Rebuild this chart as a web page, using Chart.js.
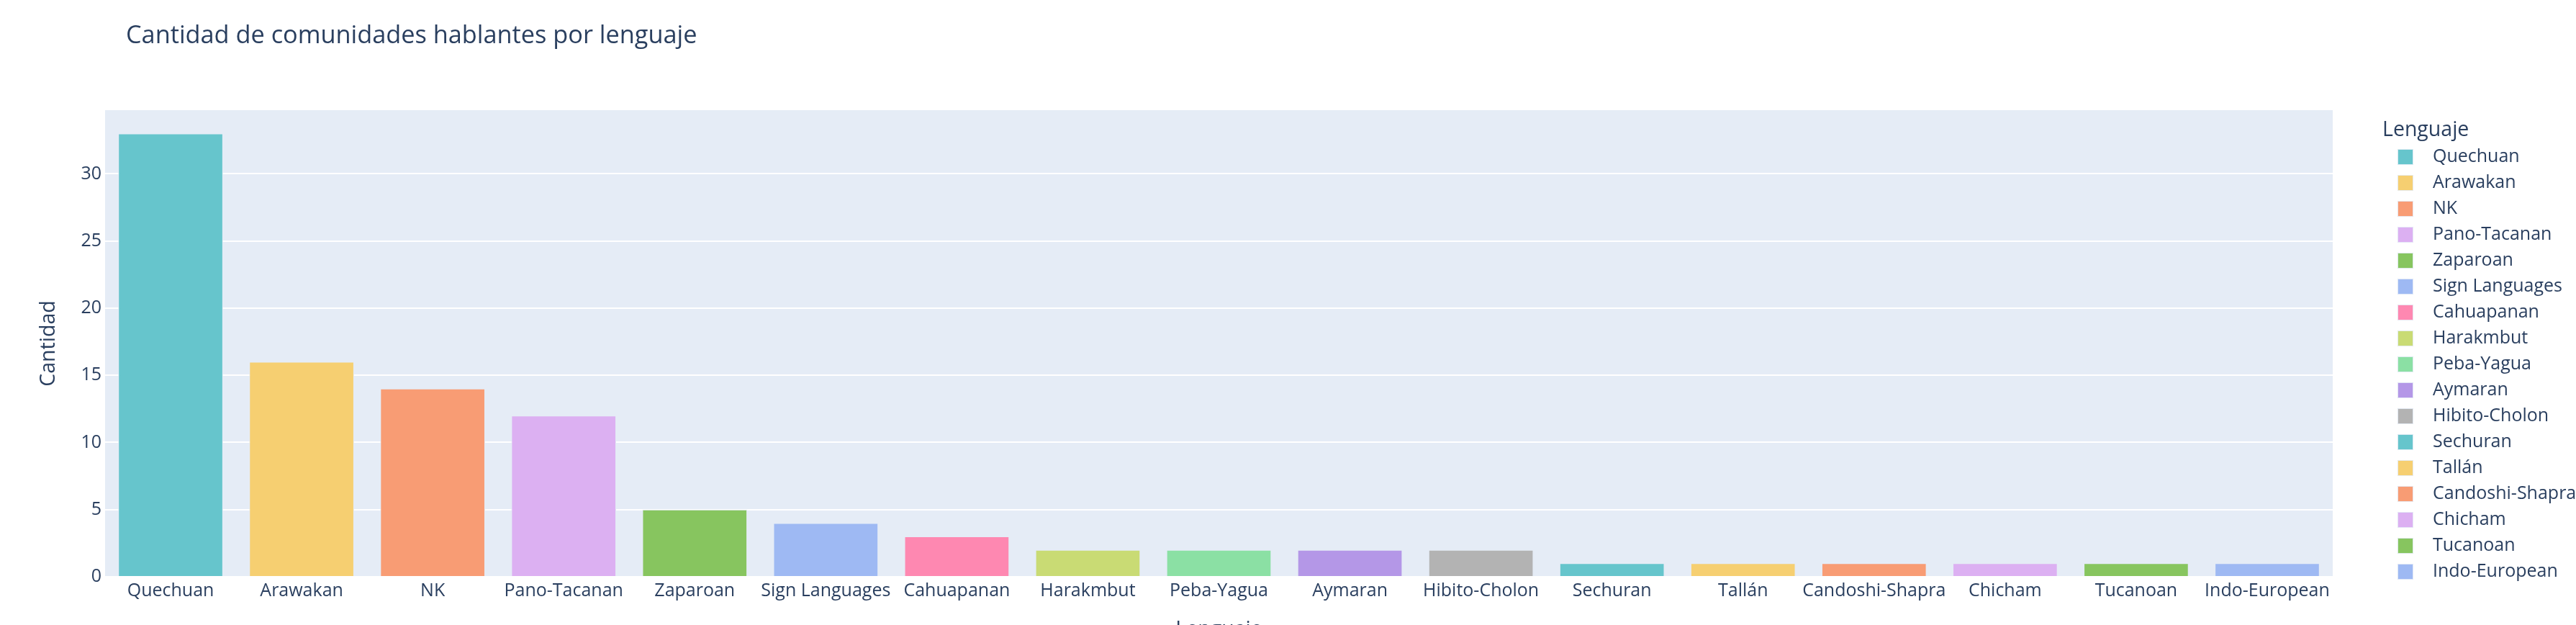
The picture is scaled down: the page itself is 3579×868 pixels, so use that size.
<!DOCTYPE html>
<html>
<head>
<meta charset="utf-8">
<script src="https://cdn.jsdelivr.net/npm/chart.js@4.4.1/dist/chart.umd.min.js"></script>
<style>
html,body{margin:0;padding:0;background:#fff;}
canvas{display:block;}
</style>
</head>
<body>
<canvas id="c" width="3579" height="868"></canvas>
<script>
const categories = ["Quechuan","Arawakan","NK","Pano-Tacanan","Zaparoan","Sign Languages","Cahuapanan","Harakmbut","Peba-Yagua","Aymaran","Hibito-Cholon","Sechuran","Tallán","Candoshi-Shapra","Chicham","Tucanoan","Indo-European"];
const counts = [33,16,14,12,5,4,3,2,2,2,2,1,1,1,1,1,1];
const colors = ["#66C5CC","#F6CF71","#F89C74","#DCB0F2","#87C55F","#9EB9F3","#FE88B1","#C9DB74","#8BE0A4","#B497E7","#B3B3B3","#66C5CC","#F6CF71","#F89C74","#DCB0F2","#87C55F","#9EB9F3"];
const yTicks = [0,5,10,15,20,25,30];
const titleText = "Cantidad de comunidades hablantes por lenguaje";
const xTitle = "Lenguaje";
const yTitle = "Cantidad";
const legendTitle = "Lenguaje";

const FONT = "'Open Sans', 'DejaVu Sans', Arial, sans-serif";
const TXT = "#2a3f5f";

const decor = {
  id: 'decor',
  beforeDraw(chart) {
    const {ctx, chartArea: a} = chart;
    ctx.save();
    ctx.fillStyle = "#E5ECF6";
    ctx.fillRect(a.left, a.top, a.right - a.left, a.bottom - a.top);
    ctx.restore();
  },
  afterDraw(chart) {
    const {ctx, chartArea: a} = chart;
    ctx.save();
    ctx.fillStyle = TXT;
    // title
    ctx.font = "34.3px " + FONT;
    ctx.textAlign = "left";
    ctx.textBaseline = "middle";
    ctx.fillText(titleText, 175, 50);
    // x title
    ctx.font = "28.5px " + FONT;
    ctx.textAlign = "center";
    ctx.fillText(xTitle, (a.left + a.right) / 2, 875);
    // y title
    ctx.save();
    ctx.translate(68, (a.top + a.bottom) / 2);
    ctx.rotate(-Math.PI / 2);
    ctx.fillText(yTitle, 0, 0);
    ctx.restore();
    // legend
    ctx.textAlign = "left";
    ctx.font = "28.5px " + FONT;
    ctx.fillText(legendTitle, 3310, 181);
    ctx.font = "25px " + FONT;
    const y0 = 218, step = 36;
    categories.forEach((c, i) => {
      const y = y0 + i * step;
      ctx.fillStyle = colors[i];
      ctx.fillRect(3331, y - 11, 22, 22);
      ctx.strokeStyle = "rgba(229,236,246,0.9)";
      ctx.lineWidth = 1;
      ctx.strokeRect(3331.5, y - 10.5, 21, 21);
      ctx.fillStyle = TXT;
      ctx.fillText(c, 3380, y);
    });
    ctx.restore();
  }
};

new Chart(document.getElementById('c'), {
  type: 'bar',
  data: {
    labels: categories,
    datasets: [{
      label: "Cantidad",
      data: counts,
      backgroundColor: colors,
      borderColor: "#E5ECF6",
      borderWidth: 1,
      barPercentage: 0.8,
      categoryPercentage: 1.0
    }]
  },
  options: {
    responsive: false,
    devicePixelRatio: 1,
    animation: false,
    layout: { padding: { left: 0, right: 338, top: 153, bottom: 0 } },
    plugins: { legend: { display: false }, title: { display: false }, tooltip: { enabled: false } },
    scales: {
      x: {
        grid: { display: false, drawTicks: false },
        border: { display: false },
        ticks: { color: TXT, font: { family: FONT, size: 25 }, padding: 5, maxRotation: 0, autoSkip: false },
        afterFit(s) { s.height = 67; }
      },
      y: {
        min: 0, max: 34.74,
        afterBuildTicks(s) { s.ticks = yTicks.map(v => ({ value: v })); },
        grid: { color: "#ffffff", lineWidth: 2, drawTicks: false },
        border: { display: false },
        ticks: { color: TXT, font: { family: FONT, size: 25 }, padding: 5 },
        afterFit(s) { s.width = 146; }
      }
    }
  },
  plugins: [decor]
});
</script>
</body>
</html>
